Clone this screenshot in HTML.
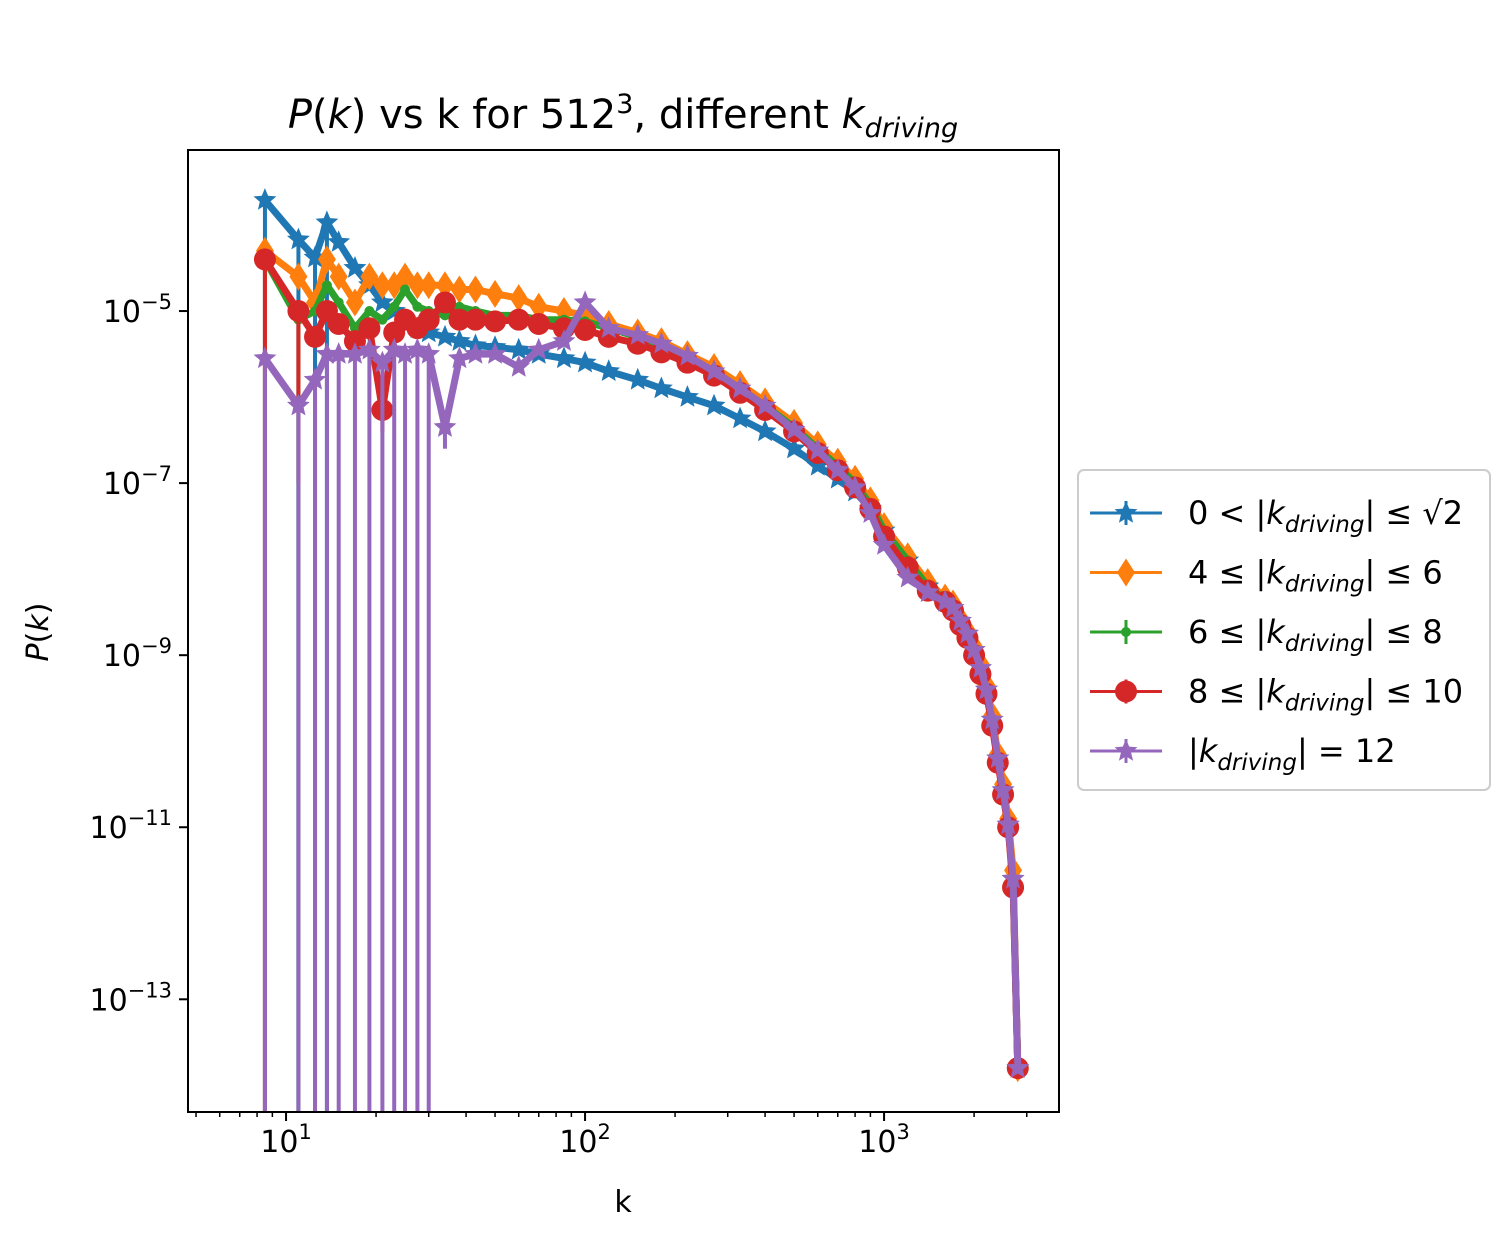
<!DOCTYPE html>
<html><head><meta charset="utf-8"><style>
body{margin:0;background:#fff;}
svg text{font-family:"DejaVu Sans","Liberation Sans",sans-serif;fill:#000;}
</style></head><body>
<svg id="chart" width="1500" height="1250" xmlns="http://www.w3.org/2000/svg">
<text x="623" y="128" font-size="40" text-anchor="middle"><tspan font-style="italic">P</tspan>(<tspan font-style="italic">k</tspan>) vs k for 512<tspan dy="-15" font-size="27">3</tspan><tspan dy="15">, different </tspan><tspan font-style="italic">k</tspan><tspan font-style="italic" font-size="27" dy="9">driving</tspan></text>
<g id="plot"></g>
<rect x="188" y="150" width="871" height="962" fill="none" stroke="#000" stroke-width="2"/>
<g id="axes"></g>
<text x="623" y="1212" font-size="30" text-anchor="middle">k</text>
<text transform="translate(48,632) rotate(-90)" font-size="30" text-anchor="middle"><tspan font-style="italic">P</tspan>(<tspan font-style="italic">k</tspan>)</text>
<g>
<rect x="1078" y="470" width="412" height="320" rx="6" fill="#fff" stroke="#ccc" stroke-width="2"/>
<g id="legend-items"></g>
</g>
</svg>
<script>
const kVals=[8.5,11,12.5,13.7,15,17,19,21,23,25,27.5,30,34,38,43,50,60,70,85,100,120,150,180,220,270,330,400,500,600,700,800,900,1000,1200,1400,1600,1700,1800,1900,2000,2100,2200,2300,2400,2500,2600,2700,2800];
const blueLogP=[-3.71,-4.17,-4.38,-3.97,-4.2,-4.5,-4.7,-4.9,-5.0,-5.1,-5.2,-5.25,-5.3,-5.35,-5.4,-5.42,-5.45,-5.5,-5.55,-5.6,-5.7,-5.8,-5.9,-6.0,-6.1,-6.25,-6.4,-6.6,-6.8,-6.95,-7.1,-7.3,-7.55,-7.9,-8.2,-8.38,-8.45,-8.6,-8.75,-8.94,-9.15,-9.4,-9.75,-10.2,-10.57,-10.97,-11.6,-13.8];
const orangeLogP=[-4.3,-4.6,-4.9,-4.4,-4.6,-4.9,-4.6,-4.7,-4.7,-4.6,-4.7,-4.7,-4.7,-4.75,-4.75,-4.8,-4.85,-4.95,-5.0,-5.05,-5.15,-5.25,-5.35,-5.5,-5.65,-5.85,-6.05,-6.3,-6.55,-6.75,-6.95,-7.2,-7.5,-7.85,-8.15,-8.33,-8.4,-8.58,-8.72,-8.9,-9.1,-9.35,-9.7,-10.15,-10.5,-10.9,-11.5,-13.8];
const greenLogP=[-4.4,-5.1,-5.0,-4.7,-4.9,-5.2,-5.0,-5.1,-4.95,-4.75,-4.95,-5.0,-5.05,-4.95,-5.0,-5.05,-5.05,-5.1,-5.1,-5.12,-5.2,-5.3,-5.4,-5.55,-5.7,-5.9,-6.1,-6.35,-6.6,-6.8,-7.0,-7.25,-7.55,-7.9,-8.2,-8.35,-8.45,-8.62,-8.78,-8.96,-9.18,-9.42,-9.78,-10.22,-10.6,-11.0,-11.65,-13.8];
const redLogP=[-4.4,-5.0,-5.3,-5.0,-5.15,-5.35,-5.2,-6.15,-5.25,-5.1,-5.2,-5.1,-4.9,-5.1,-5.1,-5.12,-5.1,-5.15,-5.2,-5.22,-5.3,-5.38,-5.48,-5.6,-5.75,-5.95,-6.15,-6.4,-6.65,-6.85,-7.05,-7.3,-7.62,-7.98,-8.25,-8.38,-8.48,-8.65,-8.8,-9.0,-9.22,-9.45,-9.82,-10.25,-10.62,-11.0,-11.7,-13.8];
const purpleLogP=[-5.55,-6.1,-5.8,-5.5,-5.5,-5.5,-5.45,-5.6,-5.45,-5.5,-5.45,-5.5,-6.35,-5.55,-5.5,-5.5,-5.65,-5.45,-5.35,-4.9,-5.2,-5.28,-5.38,-5.52,-5.7,-5.9,-6.1,-6.38,-6.62,-6.85,-7.05,-7.35,-7.72,-8.1,-8.27,-8.38,-8.45,-8.6,-8.75,-8.94,-9.15,-9.4,-9.75,-10.2,-10.57,-10.97,-11.6,-13.8];
// lower error bar bounds (log10); 0 = no error bar
const blueErrLow=[-15,-15,-15,-15,0,0,0,0,0,0,0,0,0,0,0,0,0,0,0,0,0,0,0,0,0,0,0,0,0,0,0,0,0,0,0,0,0,0,0,0,0,0,0,0,0,0,0,0];
const orangeErrLow=[-15,0,0,0,0,0,0,0,0,0,0,0,0,0,0,0,0,0,0,0,0,0,0,0,0,0,0,0,0,0,0,0,0,0,0,0,0,0,0,0,0,0,0,0,0,0,0,0];
const greenErrLow=[0,-15,0,0,0,0,0,0,0,0,0,0,0,0,0,0,0,0,0,0,0,0,0,0,0,0,0,0,0,0,0,0,0,0,0,0,0,0,0,0,0,0,0,0,0,0,0,0];
const redErrLow=[-15,-7,0,0,0,0,0,-6.4,0,0,0,0,0,0,0,0,0,0,0,0,0,0,0,0,0,0,0,0,0,0,0,0,0,0,0,0,0,0,0,0,0,0,0,0,0,0,0,0];
const purpleErrLow=[-15,-15,-15,-15,-15,-15,-15,-15,-15,-15,-15,-15,-6.6,0,0,0,0,0,0,0,0,0,0,0,0,0,0,0,0,0,0,0,0,0,0,0,0,0,0,0,0,0,0,0,0,0,0,0];
const xTicks=[1,2,3];
const yTicks=[-13,-11,-9,-7,-5];

const NS='http://www.w3.org/2000/svg';
const X0=188,X1=1059,Y0=150,Y1=1112;
const xmin=Math.log10(4.7),xmax=Math.log10(3846),ymin=-14.31,ymax=-3.128;
const xs=k=>X0+(Math.log10(k)-xmin)/(xmax-xmin)*(X1-X0);
const ys=l=>Y1-(l-ymin)/(ymax-ymin)*(Y1-Y0);
function mk(tag,attrs,parent){const e=document.createElementNS(NS,tag);for(const a in attrs)e.setAttribute(a,attrs[a]);parent.appendChild(e);return e;}
const axes=document.getElementById('axes');
for(let d=0;d<=3;d++){for(let m=1;m<10;m++){const k=m*Math.pow(10,d);if(k<4.7||k>3846)continue;const x=xs(k);
 const t=mk('line',{x1:x,x2:x,y1:Y1,y2:Y1+(m===1?9:5),stroke:'#000','stroke-width':m===1?2:1.5},axes);
 
 }}
xTicks.forEach(e=>{const t=mk('text',{x:xs(Math.pow(10,e)),y:1152,'font-size':30,'text-anchor':'middle'},axes);
 
 
 t.innerHTML='10<tspan dy="-13" font-size="21">'+e+'</tspan>';});
yTicks.forEach(e=>{const y=ys(e);const t=mk('line',{x1:X0-9,x2:X0,y1:y,y2:y,stroke:'#000','stroke-width':2},axes);
 
 });
yTicks.forEach(e=>{const t=mk('text',{x:172,y:ys(e)+11,'font-size':30,'text-anchor':'end'},axes);
 
 
 t.innerHTML='10<tspan dy="-13" font-size="21">\u2212'+(-e)+'</tspan>';});

function star(cx,cy,r){let p=[];for(let i=0;i<10;i++){const a=-Math.PI/2+i*Math.PI/5;const rr=i%2?r*0.45:r;p.push((cx+rr*Math.cos(a)).toFixed(1)+','+(cy+rr*Math.sin(a)).toFixed(1));}return p.join(' ');}
function marker(g,type,x,y,c){let m;
 if(type==='star')m=mk('polygon',{points:star(x,y,12),fill:c},g);
 else if(type==='diamond')m=mk('polygon',{points:`${x},${y-14} ${x+9},${y} ${x},${y+14} ${x-9},${y}`,fill:c},g);
 else if(type==='small')m=mk('circle',{cx:x,cy:y,r:5,fill:c},g);
 else m=mk('circle',{cx:x,cy:y,r:11,fill:c},g);
 return m;}
const series=[
 {name:'series-k-0-sqrt2',c:'#1f77b4',m:'star',v:blueLogP,e:blueErrLow},
 {name:'series-k-4-6',c:'#ff7f0e',m:'diamond',v:orangeLogP,e:orangeErrLow},
 {name:'series-k-6-8',c:'#2ca02c',m:'small',v:greenLogP,e:greenErrLow},
 {name:'series-k-8-10',c:'#d62728',m:'circle',v:redLogP,e:redErrLow},
 {name:'series-k-12',c:'#9467bd',m:'star',v:purpleLogP,e:purpleErrLow}];
const plot=document.getElementById('plot');
mk('clipPath',{id:'clip'},plot).appendChild(document.createElementNS(NS,'rect'));
const cr=plot.querySelector('clipPath rect');cr.setAttribute('x',X0);cr.setAttribute('y',Y0);cr.setAttribute('width',X1-X0);cr.setAttribute('height',Y1-Y0);
series.forEach(s=>{const g=mk('g',{'clip-path':'url(#clip)'},plot);
 
 
 const pts=kVals.map((k,i)=>xs(k).toFixed(1)+','+ys(s.v[i]).toFixed(1)).join(' ');
 const l=mk('polyline',{points:pts,fill:'none',stroke:s.c,'stroke-width':7,'stroke-linejoin':'round'},g);
 
 
 kVals.forEach((k,i)=>{if(s.e[i]!==0){const x=xs(k);const eb=mk('line',{x1:x,x2:x,y1:ys(s.v[i]),y2:ys(s.e[i]),stroke:s.c,'stroke-width':4},g);
  
  }});
 kVals.forEach((k,i)=>{const m=marker(g,s.m,xs(k),ys(s.v[i]),s.c);
  
  });
});
const leg=document.getElementById('legend-items');
const sub='|<tspan font-style="italic">k</tspan><tspan font-style="italic" font-size="23" dy="8">driving</tspan><tspan dy="-8">|';
const labels=['0 &lt; '+sub+' ≤ √2</tspan>','4 ≤ '+sub+' ≤ 6</tspan>','6 ≤ '+sub+' ≤ 8</tspan>','8 ≤ '+sub+' ≤ 10</tspan>',sub+' = 12</tspan>'];
series.forEach((s,i)=>{const y=513+i*59.5;const g=mk('g',{},leg);
 
 
 mk('line',{x1:1090,x2:1162,y1:y,y2:y,stroke:s.c,'stroke-width':3},g);
 mk('line',{x1:1126,x2:1126,y1:y-12,y2:y+12,stroke:s.c,'stroke-width':3},g);
 marker(g,s.m,1126,y,s.c);
 const t=mk('text',{x:1188,y:y+11,'font-size':32},g);t.innerHTML=labels[i];});
</script>
</body></html>
